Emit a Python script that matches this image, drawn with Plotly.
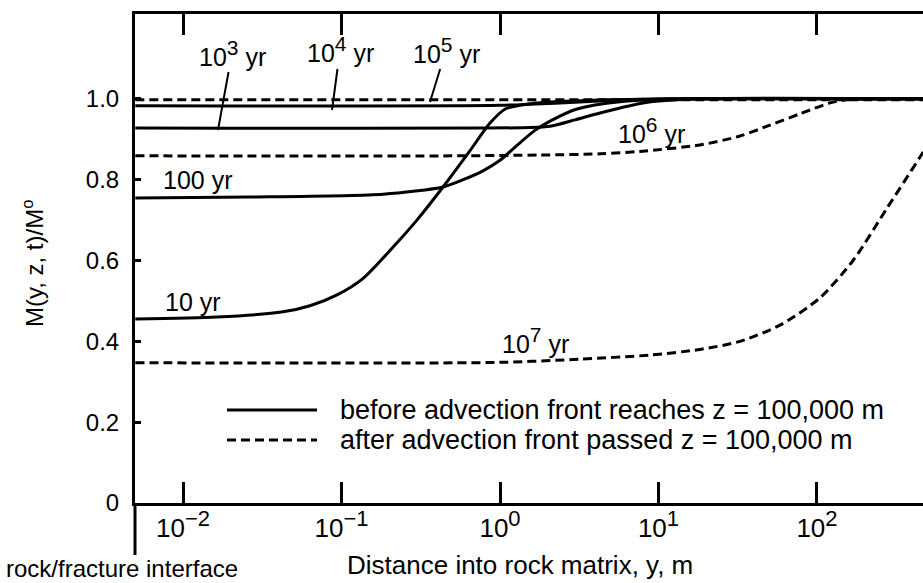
import plotly.graph_objects as go

FONT = "Liberation Sans, Arial, Helvetica, sans-serif"

# Distance into rock matrix y (m) and normalized concentration M/Mo for each time
x_10yr = [0.005, 0.0164, 0.0428, 0.0632, 0.0937, 0.137, 0.224, 0.299, 0.437, 0.647, 0.865, 1.08, 1.55, 4.28, 18.3, 470]
m_10yr = [0.455, 0.460, 0.473, 0.488, 0.515, 0.556, 0.644, 0.700, 0.782, 0.872, 0.940, 0.975, 0.988, 0.997, 1.0, 1.0]

x_100yr = [0.005, 0.0265, 0.183, 0.437, 0.585, 0.781, 1.0, 1.28, 1.66, 2.07, 3.06, 5.71, 18.3, 470]
m_100yr = [0.755, 0.757, 0.764, 0.782, 0.800, 0.822, 0.848, 0.885, 0.922, 0.945, 0.975, 0.993, 1.0, 1.0]

x_1e3yr = [0.005, 1.55, 2.07, 2.97, 4.28, 7.98, 18.3, 470]
m_1e3yr = [0.928, 0.929, 0.932, 0.948, 0.965, 0.990, 1.0, 1.0]

x_1e4yr = [0.005, 1.0, 2.39, 5.71, 11.3, 470]
m_1e4yr = [0.983, 0.984, 0.990, 0.997, 1.0, 1.0]

x_1e5yr = [0.005, 470]
m_1e5yr = [0.998, 0.998]

x_1e6yr = [0.005, 0.484, 1.79, 4.28, 7.64, 18.3, 32.7, 50.5, 78.1, 121, 155, 470]
m_1e6yr = [0.859, 0.859, 0.861, 0.864, 0.870, 0.886, 0.908, 0.935, 0.963, 0.990, 0.998, 1.0]

x_1e7yr = [0.005, 1.0, 3.2, 8.84, 18.3, 32.7, 58.4, 104, 169, 277, 447, 470]
m_1e7yr = [0.347, 0.348, 0.356, 0.366, 0.380, 0.400, 0.440, 0.507, 0.600, 0.730, 0.856, 0.870]

SUP = '<sup><span style="font-size:22px">{}</span></sup>'
x_tickvals = [0.01, 0.1, 1, 10, 100]
x_ticktext = ["10" + SUP.format("\u22122"), "10" + SUP.format("\u22121"), "10" + SUP.format("0"),
              "10" + SUP.format("1"), "10" + SUP.format("2")]
y_tickvals = [0, 0.2, 0.4, 0.6, 0.8, 1.0]
y_ticktext = ["0", "0.2", "0.4", "0.6", "0.8", "1.0"]

solid = [(x_10yr, m_10yr), (x_100yr, m_100yr), (x_1e3yr, m_1e3yr), (x_1e4yr, m_1e4yr)]
dashed = [(x_1e5yr, m_1e5yr), (x_1e6yr, m_1e6yr), (x_1e7yr, m_1e7yr)]

fig = go.Figure()
for xs, ys in solid:
    fig.add_trace(go.Scatter(x=xs, y=ys, mode="lines", showlegend=False, hoverinfo="skip",
                             line=dict(color="black", width=3, shape="spline", smoothing=0.7)))
for xs, ys in dashed:
    fig.add_trace(go.Scatter(x=xs, y=ys, mode="lines", showlegend=False, hoverinfo="skip",
                             line=dict(color="black", width=3, dash="9px,5px", shape="spline", smoothing=0.7)))

L, R, T, B = 135, 0, 14, 80
W, H = 923, 583
pw, ph = W - L - R, H - T - B

def px(xp):
    return (xp - L) / pw

def py(yp):
    return (H - B - yp) / ph

fig.update_layout(
    width=W, height=H,
    margin=dict(l=L, r=R, t=T, b=B, pad=0),
    paper_bgcolor="white", plot_bgcolor="white",
    font=dict(family=FONT, size=24, color="black"),
    showlegend=False,
    xaxis=dict(type="log", range=[-2.303, 2.669], showline=True, linewidth=3, linecolor="black",
               mirror="ticks", ticks="inside", ticklen=21, tickwidth=3, tickcolor="black",
               tickvals=x_tickvals, ticktext=x_ticktext, showgrid=False, zeroline=False,
               ticklabelstandoff=0, tickfont=dict(size=26)),
    yaxis=dict(range=[0, 1.21], showline=True, linewidth=3, linecolor="black",
               ticks="inside", ticklen=6, tickwidth=3, tickcolor="black",
               tickvals=y_tickvals, ticktext=y_ticktext, showgrid=False, zeroline=False,
               ticklabelstandoff=8, tickfont=dict(size=24)),
    yaxis2=dict(range=[0, 1.21], overlaying="y", side="right", showline=False,
                ticks="inside", ticklen=5, tickwidth=3, tickcolor="black",
                tickvals=y_tickvals, showticklabels=False, showgrid=False, zeroline=False),
)

shapes = [
    # rock/fracture interface marker below axis
    dict(type="line", xref="paper", yref="paper", x0=0, x1=0, y0=0, y1=py(555),
         line=dict(color="black", width=3)),
    # legend samples
    dict(type="line", xref="paper", yref="paper", x0=px(227), x1=px(317), y0=py(410), y1=py(410),
         line=dict(color="black", width=3)),
    dict(type="line", xref="paper", yref="paper", x0=px(227), x1=px(317), y0=py(440), y1=py(440),
         line=dict(color="black", width=3, dash="9px,5px")),
]
fig.update_layout(shapes=shapes)

ann = []
def label(text, xc, yc, size=25, **kw):
    d = dict(text=text, xref="paper", yref="paper", x=px(xc), y=py(yc), showarrow=False,
             xanchor="center", yanchor="middle", font=dict(size=size, family=FONT, color="black"))
    d.update(kw)
    ann.append(d)

CSUP = '<sup><span style="font-size:21px">{}</span></sup>'
label("Distance into rock matrix, y, m", 520, 565, size=26)
label("rock/fracture interface", 122, 568, size=24)
label("M(y, z, t)/M<sup>o</sup>", 33, 263, size=24, textangle=-90)
label("100 yr", 197, 180)
label("10 yr", 193, 302)
label("10" + CSUP.format("6") + " yr", 651, 130)
label("10" + CSUP.format("7") + " yr", 535, 340)
label("before advection front reaches z = 100,000 m", 338, 410, size=27, xanchor="left")
label("after advection front passed z = 100,000 m", 338, 440, size=27, xanchor="left")

for sup, tx, ty, lx, ly in [("3", 218, 130, 232, 53),
                            ("4", 332, 110, 340, 50),
                            ("5", 430, 102, 446, 50)]:
    ann.append(dict(text="10" + CSUP.format(sup) + " yr", xref="paper", yref="paper", x=px(tx), y=py(ty),
                    showarrow=True, arrowhead=0, arrowwidth=2, arrowcolor="black",
                    axref="pixel", ayref="pixel", ax=lx - tx, ay=ly - ty,
                    font=dict(size=25, family=FONT, color="black")))

fig.update_layout(annotations=ann)
fig.write_html("out.html")
